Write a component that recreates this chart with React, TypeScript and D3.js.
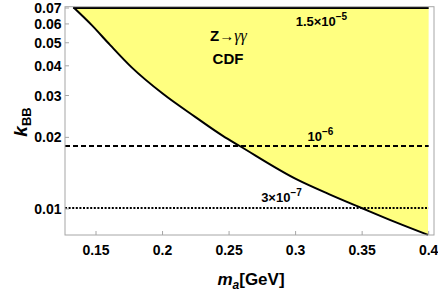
import React, { useEffect, useRef } from "react";
import * as d3 from "d3";

// boundary of the excluded region (Z -> gamma gamma, CDF)
const boundMass = [0.133, 0.1468, 0.1605, 0.1768, 0.2003, 0.2245, 0.2453, 0.258, 0.3005, 0.325, 0.35, 0.3755, 0.3995];
const boundCoupling = [0.0705, 0.0593, 0.049, 0.0394, 0.0305, 0.0244, 0.0203, 0.0184, 0.01335, 0.01155, 0.01007, 0.00878, 0.00778];

// horizontal branching-ratio contours
const contourCoupling = [0.07, 0.0184, 0.0101];
const contourBase = ["1.5\u00d710", "10", "3\u00d710"];
const contourExp = ["\u22125", "\u22126", "\u22127"];
const contourLabelMass = [0.3194, 0.3186, 0.2894];

const massTicks = [0.15, 0.2, 0.25, 0.3, 0.35, 0.4];
const massTickLabels = ["0.15", "0.2", "0.25", "0.3", "0.35", "0.4"];
const couplingTicks = [0.01, 0.02, 0.03, 0.04, 0.05, 0.06, 0.07];
const couplingTickLabels = ["0.01", "0.02", "0.03", "0.04", "0.05", "0.06", "0.07"];

const width = 438;
const height = 293;
const frame = { left: 65, top: 6.7, right: 434, bottom: 235 };
const font = "'Liberation Sans', Arial, Helvetica, sans-serif";

const App = () => {
    const svgRef = useRef<SVGSVGElement | null>(null);

    useEffect(() => {
        const svg = d3.select(svgRef.current);
        svg.selectAll("*").remove();

        const x = d3.scaleLinear().domain([0.1267, 0.404]).range([frame.left, frame.right]);
        const y = d3.scaleLog().domain([0.00777, 0.0709]).range([frame.bottom, frame.top]);

        const xEnd = x(0.4);
        const topK = contourCoupling[0];

        // yellow excluded region
        const pts: [number, number][] = boundMass.map((m, i) => [x(m), y(boundCoupling[i])]);
        const curve = d3.line().curve(d3.curveMonotoneX);
        const areaPath =
            (curve(pts) as string) + `L${xEnd},${y(topK)}L${pts[0][0]},${y(topK)}Z`;
        svg.append("path").attr("d", areaPath).attr("fill", "#ffff80").attr("stroke", "none");

        // contour lines
        const dashes = [null, "5,3", "2,1.6"];
        contourCoupling.forEach((k, i) => {
            svg.append("line")
                .attr("x1", i === 0 ? pts[0][0] : frame.left)
                .attr("x2", xEnd)
                .attr("y1", y(k))
                .attr("y2", y(k))
                .attr("stroke", "#000")
                .attr("stroke-width", 2)
                .attr("stroke-dasharray", dashes[i]);
        });

        // boundary curve
        svg.append("path")
            .attr("d", curve(pts) as string)
            .attr("fill", "none")
            .attr("stroke", "#000")
            .attr("stroke-width", 2);

        // frame
        svg.append("rect")
            .attr("x", frame.left)
            .attr("y", frame.top)
            .attr("width", frame.right - frame.left)
            .attr("height", frame.bottom - frame.top)
            .attr("fill", "none")
            .attr("stroke", "#a6a6a6")
            .attr("stroke-width", 1);

        // x ticks
        const xt = svg.append("g");
        massTicks.forEach((m, i) => {
            xt.append("line")
                .attr("x1", x(m)).attr("x2", x(m))
                .attr("y1", frame.bottom).attr("y2", frame.bottom - 4)
                .attr("stroke", "#a6a6a6");
            xt.append("text")
                .attr("x", x(m)).attr("y", 255)
                .attr("text-anchor", "middle")
                .style("font", `bold 14px ${font}`)
                .text(massTickLabels[i]);
        });

        // y ticks
        const yt = svg.append("g");
        couplingTicks.forEach((k, i) => {
            yt.append("line")
                .attr("x1", frame.left).attr("x2", frame.left + 4)
                .attr("y1", y(k)).attr("y2", y(k))
                .attr("stroke", "#a6a6a6");
            yt.append("text")
                .attr("x", 61.5).attr("y", y(k) + 5)
                .attr("text-anchor", "end")
                .style("font", `bold 14px ${font}`)
                .text(couplingTickLabels[i]);
        });

        // contour labels
        const labelY = [26, 140.7, 201.7];
        contourCoupling.forEach((_, i) => {
            const t = svg.append("text")
                .attr("x", x(contourLabelMass[i]))
                .attr("y", labelY[i])
                .attr("text-anchor", "middle")
                .style("font", `bold 13px ${font}`);
            t.append("tspan").text(contourBase[i]);
            t.append("tspan").attr("dy", -6).style("font-size", "10px").text(contourExp[i]);
        });

        // process / experiment label
        const zt = svg.append("text")
            .attr("x", 228.5).attr("y", 40.7)
            .attr("text-anchor", "middle")
            .style("font", `bold 15px ${font}`);
        zt.append("tspan").text("Z\u2192");
        zt.append("tspan")
            .style("font", "italic 16px 'Liberation Serif', 'Times New Roman', serif")
            .text("\u03b3\u03b3");
        svg.append("text")
            .attr("x", 228).attr("y", 64)
            .attr("text-anchor", "middle")
            .style("font", `bold 15px ${font}`)
            .text("CDF");

        // axis titles
        const xl = svg.append("text")
            .attr("x", 251).attr("y", 285)
            .attr("text-anchor", "middle")
            .style("font", `bold 17px ${font}`);
        xl.append("tspan").style("font-style", "italic").text("m");
        xl.append("tspan").attr("dy", 4).style("font-size", "12px").style("font-style", "italic").text("a");
        xl.append("tspan").attr("dy", -4).text("[GeV]");

        const yl = svg.append("text")
            .attr("transform", "translate(27,122) rotate(-90)")
            .attr("text-anchor", "middle")
            .style("font", `bold 19px ${font}`);
        yl.append("tspan").style("font-style", "italic").text("k");
        yl.append("tspan").attr("dy", 4).style("font-size", "13px").text("BB");
    }, []);

    return (
        <svg
            ref={svgRef}
            width={width}
            height={height}
            style={{ position: "absolute", left: 0, top: 0, background: "#fff" }}
        />
    );
};

export default App;
